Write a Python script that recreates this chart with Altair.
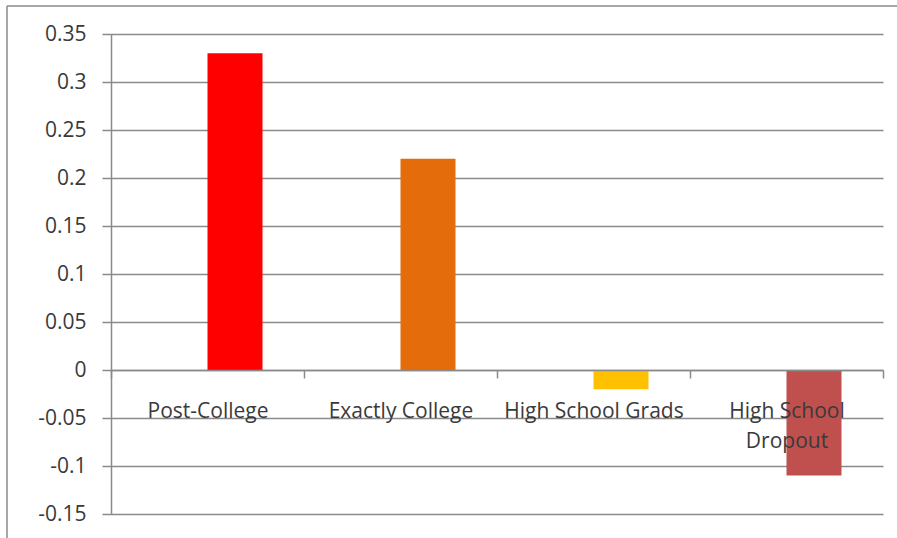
import altair as alt
import pandas as pd

# Education groups and their effect values
groups = ["Post-College", "Exactly College", "High School Grads", "High School Dropout"]
effects = [0.33, 0.22, -0.02, -0.11]
bar_colors = ["#FF0000", "#E46C0A", "#FFC000", "#C0504D"]
y_ticks = [-0.15, -0.1, -0.05, 0, 0.05, 0.1, 0.15, 0.2, 0.25, 0.3, 0.35]

df = pd.DataFrame({"group": groups, "effect": effects})

FONT = "Open Sans"
LINE = "#8a8a8a"
TEXT = "#3a3a3a"

bars = alt.Chart(df).mark_bar(width=55, xOffset=27.5).encode(
    x=alt.X(
        "group:N",
        sort=groups,
        scale=alt.Scale(paddingInner=0, paddingOuter=0),
        axis=alt.Axis(
            title=None,
            orient="bottom",
            offset=-144,
            grid=False,
            labelAngle=0,
            labelFont=FONT,
            labelFontSize=21,
            labelColor=TEXT,
            labelPadding=22,
            labelLineHeight=30,
            labelExpr="datum.label == 'High School Dropout' ? ['High School', 'Dropout'] : datum.label",
            domainColor=LINE,
            domainWidth=1.5,
            tickColor=LINE,
            tickSize=8,
            tickWidth=1.5,
            tickBand="extent",
            zindex=1,
        ),
    ),
    y=alt.Y(
        "effect:Q",
        scale=alt.Scale(domain=[-0.15, 0.35], nice=False),
        axis=alt.Axis(
            title=None,
            values=y_ticks,
            labelExpr="'' + datum.value",
            labelFont=FONT,
            labelFontSize=21,
            labelColor=TEXT,
            labelPadding=16,
            domainColor=LINE,
            domainWidth=1.5,
            tickColor=LINE,
            tickSize=9,
            tickWidth=1.5,
            gridColor=LINE,
            gridWidth=1.5,
        ),
    ),
    color=alt.Color(
        "group:N",
        scale=alt.Scale(domain=groups, range=bar_colors),
        legend=None,
    ),
)

# Outer frame lines (top and left edges of the chart box)
frame_src = pd.DataFrame({"k": [0]})
frame_top = alt.Chart(frame_src).mark_rule(color=LINE, strokeWidth=1.5).encode(
    x=alt.value(-104), x2=alt.value(800), y=alt.value(-28)
)
frame_left = alt.Chart(frame_src).mark_rule(color=LINE, strokeWidth=1.5).encode(
    x=alt.value(-104), y=alt.value(-28), y2=alt.value(520)
)

chart = (
    alt.layer(bars, frame_top, frame_left)
    .properties(
        width=772,
        height=480,
        autosize=alt.AutoSizeParams(type="none"),
        padding={"left": 111, "top": 34, "right": 14, "bottom": 24},
        background="white",
    )
    .configure_view(stroke=None)
)

chart.save("out.html", embed_options={"renderer": "svg", "actions": False})
